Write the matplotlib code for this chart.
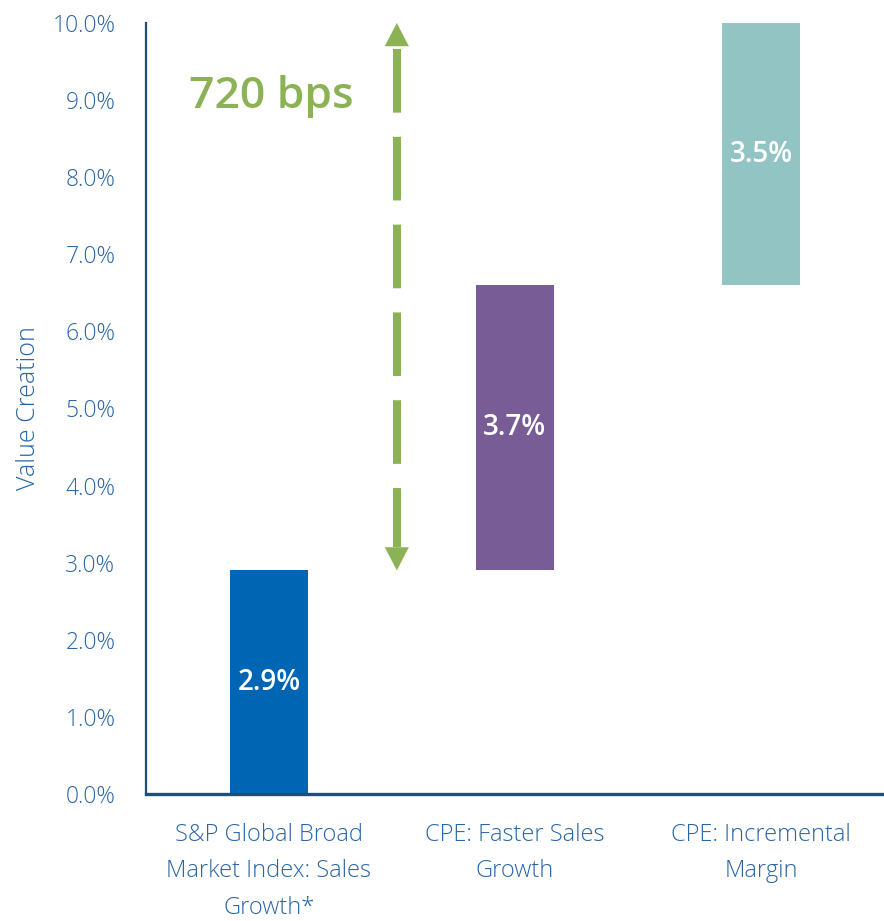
import numpy as np
import matplotlib
matplotlib.use("Agg")
import matplotlib.pyplot as plt
from matplotlib.ticker import FuncFormatter

# waterfall pieces, in percent
categories = ["S&P Global Broad\nMarket Index: Sales\nGrowth*",
              "CPE: Faster Sales\nGrowth",
              "CPE: Incremental\nMargin"]
values = [2.9, 3.7, 3.5]
bar_colors = ["#0066B3", "#775C96", "#93C4C4"]
y_ticks = np.arange(0, 11, 1)
arrow_label = "720 bps"

blue_txt = "#2A66A6"
navy = "#1F4E79"
green = "#8BB356"

plt.rcParams['font.family'] = ['Open Sans', 'DejaVu Sans']

fig = plt.figure(figsize=(8.84, 9.21), dpi=100)
ax = fig.add_axes([0.165, 0.138, 0.835, 0.837])

x = np.arange(len(values))
bottoms = np.concatenate([[0], np.cumsum(values)[:-1]])
bars = ax.bar(x, values, bottom=bottoms, width=0.317, color=bar_colors, zorder=2)

ymax = 10.0
for i, b in enumerate(bars):
    top = min(bottoms[i] + values[i], ymax)
    mid = (bottoms[i] + top) / 2
    ax.text(x[i], mid, f"{values[i]:.1f}%", ha="center", va="center",
            color="white", fontsize=20, fontweight="semibold", zorder=3)

ax.set_xlim(-0.5, 2.5)
ax.set_ylim(0, ymax)
ax.set_yticks(y_ticks)
ax.yaxis.set_major_formatter(FuncFormatter(lambda v, p: f"{v:.1f}%"))
ax.set_xticks(x)
ax.set_xticklabels(categories, fontsize=17, color=blue_txt, linespacing=1.68,
                   va="top", fontweight="light")
ax.tick_params(axis="y", length=0, pad=22, labelsize=16.5, labelcolor=blue_txt)
for lab in ax.get_yticklabels():
    lab.set_fontweight("light")
ax.tick_params(axis="x", length=0, pad=21)
ax.set_ylabel("Value Creation", fontsize=18, color=blue_txt, labelpad=8,
              fontweight="light")

for s in ["top", "right"]:
    ax.spines[s].set_visible(False)
ax.spines["left"].set_color(navy)
ax.spines["left"].set_linewidth(1.6)
ax.spines["bottom"].set_color(navy)
ax.spines["bottom"].set_linewidth(2.4)

# dashed double arrow showing the uplift over the index
ax_x = 0.52
lo = values[0]
hi = min(sum(values), ymax)
head = 16.5  # points
ax.annotate("", xy=(ax_x, hi), xytext=(0, -head), textcoords="offset points",
            arrowprops=dict(arrowstyle="-|>,head_length=1.65,head_width=0.86",
                            color=green, lw=0.1, shrinkA=0, shrinkB=0),
            annotation_clip=False)
ax.annotate("", xy=(ax_x, lo), xytext=(0, head), textcoords="offset points",
            arrowprops=dict(arrowstyle="-|>,head_length=1.65,head_width=0.86",
                            color=green, lw=0.1, shrinkA=0, shrinkB=0),
            annotation_clip=False)
px = ax.transData.transform([(0, hi), (0, lo)])
unit = (px[0][1] - px[1][1]) / (hi - lo)
gap_top = (head * 100 / 72 + 3) / unit
gap_bot = (head * 100 / 72) / unit
ax.plot([ax_x, ax_x], [hi - gap_top, lo + gap_bot], color=green, lw=5.8,
        dashes=(7.9, 3.0), solid_capstyle="butt", dash_capstyle="butt", zorder=2)

ax.text(0.01, 9.05, arrow_label, ha="center", va="center", color=green,
        fontsize=32, fontweight="semibold")

fig.savefig("out.png", dpi=100)
